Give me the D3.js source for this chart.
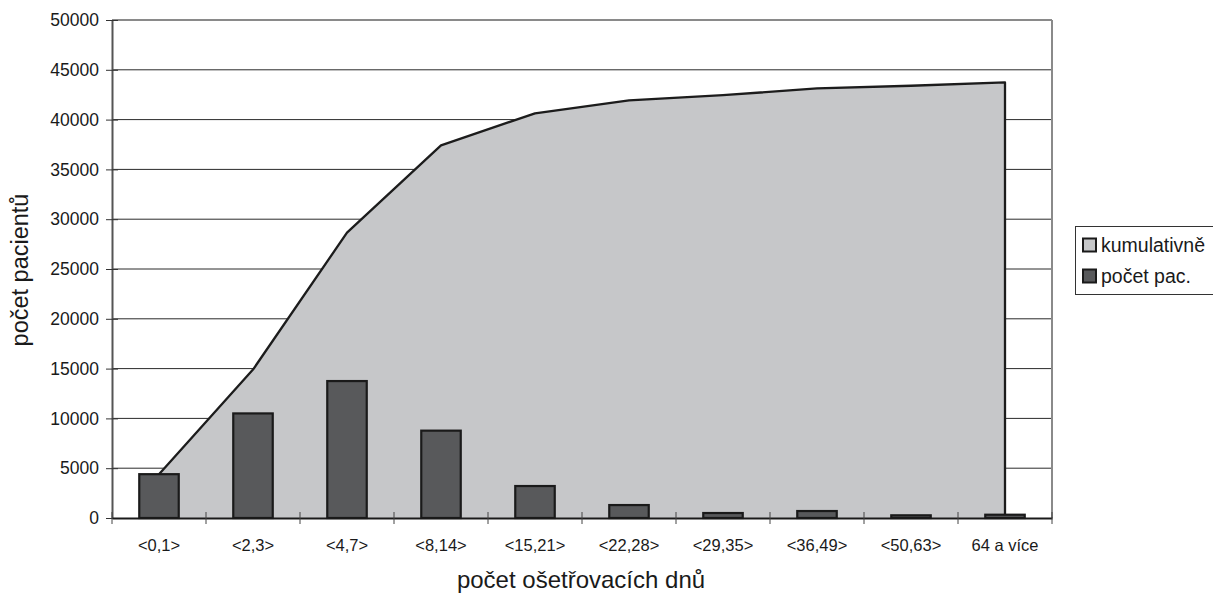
<!DOCTYPE html>
<html><head><meta charset="utf-8">
<script src="https://cdn.jsdelivr.net/npm/d3@7"></script>
<style>
html,body{margin:0;padding:0;background:#fff;}
text{font-family:"Liberation Sans",Arial,sans-serif;fill:#1a1a1a;}
</style></head>
<body><svg id="c" width="1213" height="594"></svg>
<script>
const categories = ["<0,1>","<2,3>","<4,7>","<8,14>","<15,21>","<22,28>","<29,35>","<36,49>","<50,63>","64 a více"];
const pocetPac = [4400, 10500, 13750, 8770, 3210, 1300, 500, 700, 270, 330];
const kumulativne = [4400, 14900, 28650, 37420, 40630, 41930, 42450, 43130, 43400, 43730];
const yTicks = [0,5000,10000,15000,20000,25000,30000,35000,40000,45000,50000];
const seriesNames = ["kumulativně","počet pac."];

const svg = d3.select("#c");
const L=112, R=1052, T=20, B=518;
const FONT = "Liberation Sans, Arial, sans-serif";
const x = d3.scaleBand().domain(categories).range([L,R]).padding(0);
const y = d3.scaleLinear().domain([0,50000]).range([B,T]);
const cx = d => x(d)+x.bandwidth()/2;

// gridlines
svg.append("g").selectAll("line").data(yTicks.filter(v=>v>0)).join("line")
  .attr("x1",L).attr("x2",R).attr("y1",d=>y(d)).attr("y2",d=>y(d))
  .attr("stroke",d=>d===50000?"#8a8a8a":"#2a2a2a").attr("stroke-width",d=>d===50000?2:1);
// right border
svg.append("line").attr("x1",R).attr("x2",R).attr("y1",T).attr("y2",B).attr("stroke","#8a8a8a").attr("stroke-width",2);

// area
const pts = categories.map((c,i)=>({c, v:kumulativne[i]}));
const area = d3.area().x(d=>cx(d.c)).y0(y(0)).y1(d=>y(d.v));
svg.append("path").datum(pts).attr("d",area).attr("fill","#c6c7c9");
const line = d3.line().x(d=>cx(d.c)).y(d=>y(d.v));
const outline = pts.concat([{c:categories[categories.length-1],v:0}]);
svg.append("path").datum(outline).attr("d",line).attr("fill","none").attr("stroke","#1c1c1c").attr("stroke-width",2.3).attr("stroke-linejoin","round");

// bars
const bw = x.bandwidth()*0.42;
svg.append("g").selectAll("rect").data(categories).join("rect")
  .attr("x",d=>cx(d)-bw/2).attr("width",bw)
  .attr("y",(d,i)=>y(pocetPac[i])).attr("height",(d,i)=>y(0)-y(pocetPac[i]))
  .attr("fill","#58595b").attr("stroke","#1a1a1a").attr("stroke-width",2.2);

// axes
const ya = svg.append("g").attr("transform",`translate(${L},0)`)
  .call(d3.axisLeft(y).tickValues(yTicks).tickSize(0).tickPadding(13).tickFormat(d3.format("d")));
ya.select(".domain").attr("stroke","#555").attr("stroke-width",2);
ya.selectAll(".tick text").attr("font-size",17.5).attr("font-family",FONT).attr("fill","#1a1a1a");
ya.selectAll(".tick").append("line").attr("x1",-6).attr("x2",6).attr("stroke","#333");

const xa = svg.append("g").attr("transform",`translate(0,${B})`)
  .call(d3.axisBottom(x).tickSize(0).tickPadding(21));
xa.select(".domain").attr("stroke","#1a1a1a").attr("stroke-width",2);
xa.selectAll(".tick text").attr("font-size",16.5).attr("font-family",FONT).attr("fill","#1a1a1a");
svg.append("g").selectAll("line").data(categories.map(c=>x(c)).concat([R])).join("line")
  .attr("x1",d=>d).attr("x2",d=>d).attr("y1",B-6).attr("y2",B+6).attr("stroke","#444");

// titles
svg.append("text").attr("x",581).attr("y",588).attr("text-anchor","middle").attr("font-size",24).text("počet ošetřovacích dnů");
svg.append("text").attr("transform","translate(28,270) rotate(-90)").attr("text-anchor","middle").attr("font-size",23.5).text("počet pacientů");

// legend
const lg = svg.append("g");
lg.append("rect").attr("x",1075.5).attr("y",226.5).attr("width",145).attr("height",68).attr("fill","#fff").attr("stroke","#333").attr("stroke-width",1);
const fills = ["#c6c7c9","#58595b"];
seriesNames.forEach((n,i)=>{
  const yy = 245 + i*31;
  lg.append("rect").attr("x",1083).attr("y",yy-6.5).attr("width",13).attr("height",13).attr("fill",fills[i]).attr("stroke","#1a1a1a").attr("stroke-width",2);
  lg.append("text").attr("x",1101).attr("y",yy).attr("dy","0.35em").attr("font-size",19.5).text(n);
});
</script></body></html>
